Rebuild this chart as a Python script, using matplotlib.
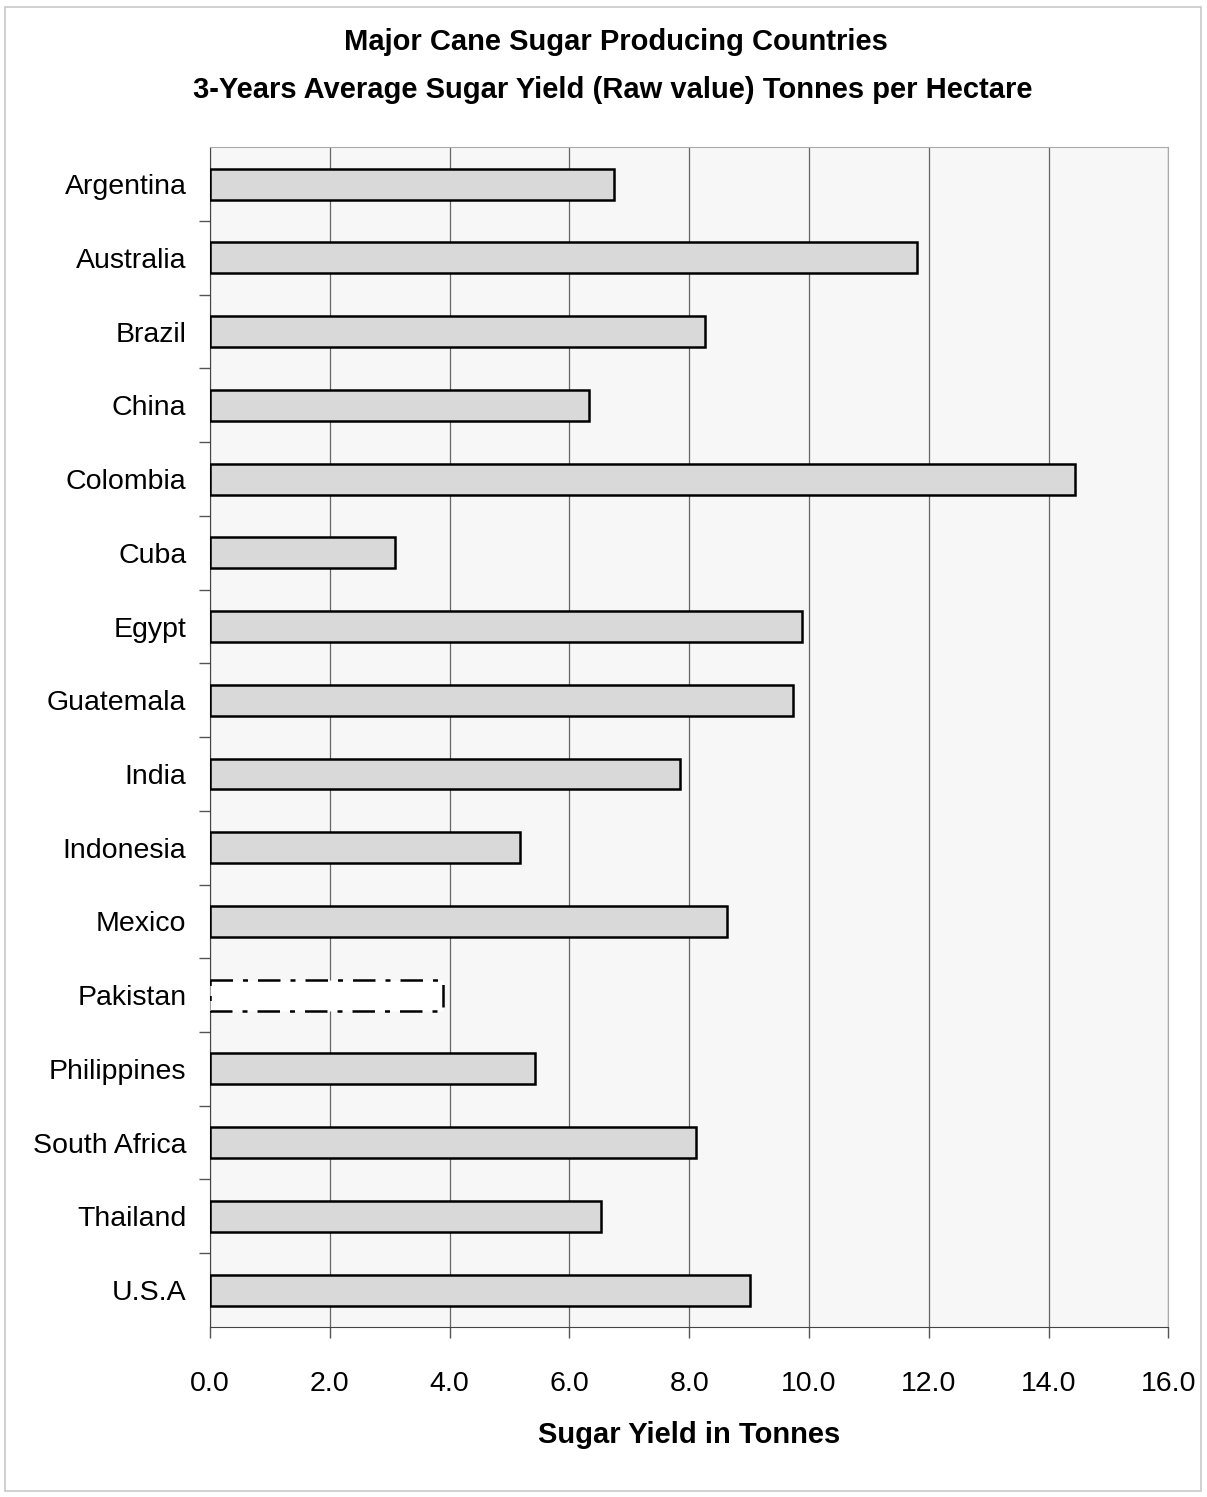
import matplotlib.pyplot as plt
from matplotlib.patches import Rectangle

countries = ['Argentina', 'Australia', 'Brazil', 'China', 'Colombia', 'Cuba', 'Egypt',
             'Guatemala', 'India', 'Indonesia', 'Mexico', 'Pakistan', 'Philippines',
             'South Africa', 'Thailand', 'U.S.A']
yields = [6.75, 11.8, 8.27, 6.33, 14.44, 3.08, 9.88, 9.73, 7.84, 5.18, 8.63, 3.89,
          5.43, 8.11, 6.53, 9.01]
x_ticks = [0, 2, 4, 6, 8, 10, 12, 14, 16]

plt.rcParams['font.family'] = ['Liberation Sans', 'DejaVu Sans']

fig = plt.figure(figsize=(12.07, 14.97), dpi=100)
fig.patches.append(Rectangle((0.004, 0.004), 0.991, 0.991, transform=fig.transFigure,
                             fill=False, edgecolor='#c8c8c8', linewidth=1.2))
ax = fig.add_axes([0.174, 0.1136, 0.794, 0.788])
ax.set_facecolor('#f7f7f7')

pos = list(range(len(countries)))
for i, (c, v) in enumerate(zip(countries, yields)):
    if c == 'Pakistan':
        ax.barh(i, v, height=0.42, color='white', edgecolor='black',
                linewidth=1.8, linestyle=(0, (9, 4, 2, 4)), zorder=3)
    else:
        ax.barh(i, v, height=0.42, color='#d9d9d9', edgecolor='black',
                linewidth=1.8, zorder=3)

ax.set_xlim(0, 16)
ax.set_ylim(len(countries) - 0.5, -0.5)
ax.set_xticks(x_ticks)
ax.set_xticklabels([f'{t:.1f}' for t in x_ticks], fontsize=20.5)
ax.set_yticks(pos)
ax.set_yticklabels(countries, fontsize=20.5)
ax.tick_params(axis='y', length=0, pad=17)
ax.set_yticks([p + 0.5 for p in pos[:-1]], minor=True)
ax.tick_params(axis='y', which='minor', length=8, color='#555555', width=1)
ax.tick_params(axis='x', length=8, color='#555555', width=1, pad=24)
ax.xaxis.grid(True, color='#666666', linewidth=0.9)
ax.set_axisbelow(True)

for s in ['top', 'right']:
    ax.spines[s].set_color('#aaaaaa')
ax.spines['left'].set_color('#444444')
ax.spines['bottom'].set_color('#444444')

ax.set_xlabel('Sugar Yield in Tonnes', fontsize=21, fontweight='bold', labelpad=17)
fig.text(0.51, 0.972, 'Major Cane Sugar Producing Countries', ha='center', va='center',
         fontsize=21, fontweight='bold')
fig.text(0.508, 0.94, '3-Years Average Sugar Yield (Raw value) Tonnes per Hectare',
         ha='center', va='center', fontsize=21, fontweight='bold')

fig.savefig('out.png', dpi=100)
